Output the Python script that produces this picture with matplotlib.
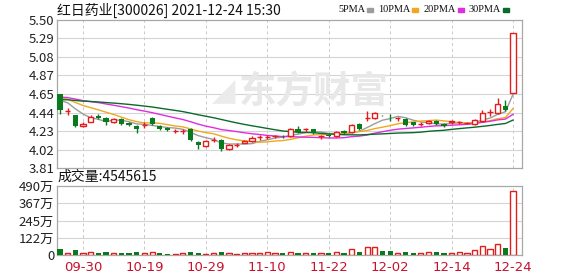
import numpy as np
import matplotlib
matplotlib.use("Agg")
import matplotlib.pyplot as plt

plt.rcParams['font.family'] = ['Noto Sans CJK SC', 'DejaVu Sans']

# daily candles, 2021-09-27 .. 2021-12-24
opens = [4.65, 4.46, 4.41, 4.29, 4.34, 4.40, 4.38, 4.34, 4.37, 4.32,
         4.29, 4.30, 4.38, 4.29, 4.27, 4.23, 4.23, 4.26, 4.11, 4.06,
         4.13, 4.13, 4.03, 4.07, 4.10, 4.12, 4.16, 4.16, 4.17, 4.175,
         4.18, 4.25, 4.25, 4.25, 4.17, 4.19, 4.17, 4.23, 4.22, 4.31,
         4.38, 4.38, 4.415, 4.395, 4.38, 4.37, 4.33, 4.31, 4.32, 4.35,
         4.31, 4.34, 4.33, 4.32, 4.31, 4.35, 4.45, 4.44, 4.52, 4.67]
closes = [4.47, 4.46, 4.29, 4.31, 4.39, 4.38, 4.33, 4.37, 4.31, 4.30,
          4.26, 4.30, 4.31, 4.25, 4.24, 4.23, 4.23, 4.13, 4.07, 4.12,
          4.13, 4.03, 4.07, 4.07, 4.12, 4.15, 4.16, 4.16, 4.17, 4.17,
          4.26, 4.22, 4.25, 4.21, 4.17, 4.17, 4.22, 4.21, 4.30, 4.25,
          4.38, 4.44, 4.41, 4.39, 4.38, 4.30, 4.30, 4.31, 4.35, 4.31,
          4.29, 4.34, 4.33, 4.32, 4.36, 4.44, 4.45, 4.54, 4.47, 5.35]
highs = [4.66, 4.50, 4.42, 4.34, 4.42, 4.43, 4.39, 4.38, 4.38, 4.33,
         4.30, 4.33, 4.39, 4.30, 4.28, 4.26, 4.26, 4.27, 4.12, 4.13,
         4.16, 4.14, 4.08, 4.09, 4.13, 4.18, 4.19, 4.19, 4.19, 4.19,
         4.27, 4.29, 4.27, 4.26, 4.19, 4.20, 4.23, 4.24, 4.31, 4.32,
         4.46, 4.45, 4.42, 4.43, 4.39, 4.38, 4.34, 4.33, 4.36, 4.36,
         4.32, 4.36, 4.35, 4.33, 4.37, 4.47, 4.48, 4.61, 4.59, 5.35]
lows = [4.43, 4.41, 4.28, 4.28, 4.33, 4.37, 4.30, 4.32, 4.30, 4.29,
        4.21, 4.27, 4.30, 4.24, 4.23, 4.21, 4.20, 4.12, 4.03, 4.05,
        4.11, 4.00, 4.02, 4.05, 4.09, 4.11, 4.13, 4.14, 4.15, 4.15,
        4.16, 4.21, 4.22, 4.20, 4.14, 4.16, 4.16, 4.20, 4.21, 4.24,
        4.35, 4.37, 4.40, 4.35, 4.35, 4.29, 4.29, 4.29, 4.31, 4.30,
        4.28, 4.31, 4.31, 4.31, 4.30, 4.34, 4.40, 4.43, 4.46, 4.67]
# volume in 万 shares
volume = [43, 12, 35, 17, 19, 12, 21, 12, 12, 12,
          21, 12, 21, 12, 7, 7, 12, 21, 12, 7,
          12, 21, 12, 7, 12, 12, 12, 21, 12, 12,
          24, 17, 12, 17, 12, 12, 19, 12, 40, 21,
          54, 54, 28, 28, 17, 19, 12, 12, 19, 19,
          12, 12, 19, 12, 35, 64, 40, 78, 50, 454.5615]
# closes before the window, only used to start the moving averages
prior_closes = [4.50, 4.52, 4.55, 4.51, 4.54, 4.53, 4.56, 4.52, 4.54, 4.53,
                4.60, 4.62, 4.65, 4.63, 4.61, 4.64, 4.66, 4.63, 4.62, 4.64,
                4.62, 4.66, 4.65, 4.64, 4.63, 4.60, 4.63, 4.61, 4.60]

tick_idx = [3, 11, 19, 27, 35, 43, 51, 59]
tick_labels = ['09-30', '10-19', '10-29', '11-10', '11-22', '12-02', '12-14', '12-24']
price_ticks = [3.81, 4.02, 4.23, 4.44, 4.65, 4.87, 5.08, 5.29, 5.50]
vol_ticks = [0, 122.5, 245, 367.5, 490]
vol_tick_labels = ['0', '122万', '245万', '367万', '490万']

ma_periods = [5, 10, 20, 30]
ma_colors = ['#9c9c9c', '#f0a820', '#e22ce0', '#0b6a2c']
RED = '#e41c1c'
GREEN = '#0a7a1e'

n = len(closes)
x = np.arange(n)
o = np.array(opens)
c = np.array(closes)
up = c >= o
vol_up = up.copy()
vol_up[12] = True

fig = plt.figure(figsize=(5.78, 2.76), dpi=100)
ax = fig.add_axes([57 / 578, 1 - 168 / 276, 465 / 578, 148 / 276])
axv = fig.add_axes([57 / 578, 1 - 255 / 276, 465 / 578, 69 / 276])

xlim = (-0.39, 60.17)

for a in (ax, axv):
    a.set_xlim(*xlim)
    for s in a.spines.values():
        s.set_color('#a8a8a8')
        s.set_linewidth(0.9)
    for i in tick_idx:
        a.axvline(i, color='#c8c8c8', lw=0.7, ls=(0, (3, 3)), zorder=0)
    a.tick_params(length=0, labelsize=9.5, colors='#222222', pad=2)

# price panel
ax.set_ylim(3.81, 5.50)
ax.set_yticks(price_ticks)
ax.set_yticklabels([f'{t:.2f}' for t in price_ticks])
ax.set_xticks([])
for t in price_ticks[1:-1]:
    ax.axhline(t, color='#d4d4d4', lw=0.8, zorder=0)

# watermark
ax.text(33, 4.68, '东方财富', fontsize=27, fontweight='bold', color='#e8e8e8',
        ha='center', va='center', zorder=0.5)
ax.text(21.3, 4.68, '◢', fontsize=22, color='#ebebeb',
        ha='center', va='center', zorder=0.5, family=['DejaVu Sans'])

all_c = np.array(prior_closes + closes)
for p, col in zip(ma_periods, ma_colors):
    ma = np.convolve(all_c, np.ones(p) / p, mode='valid')[-n:]
    ax.plot(x, ma, color=col, lw=1.0, zorder=2)

w = 0.68
for i in range(n):
    col = RED if up[i] else GREEN
    ax.vlines(x[i], lows[i], highs[i], color=col, lw=1.0, zorder=3)
    bottom = min(o[i], c[i])
    h = max(abs(c[i] - o[i]), 0.004)
    if up[i]:
        ax.bar(x[i], h, w, bottom=bottom, facecolor='white', edgecolor=col,
               lw=1.0, zorder=4)
    else:
        ax.bar(x[i], h, w, bottom=bottom, color=col, lw=0, zorder=4)

# volume panel
axv.set_ylim(0, 490)
axv.set_yticks(vol_ticks)
axv.set_yticklabels(vol_tick_labels)
for t in vol_ticks[1:-1]:
    axv.axhline(t, color='#d4d4d4', lw=0.8, zorder=0)
axv.set_xticks(tick_idx)
axv.set_xticklabels(tick_labels, color='#c8102e', fontsize=9.5,
                    family=['DejaVu Sans'])
axv.tick_params(axis='x', pad=4)
for i in range(n):
    if vol_up[i]:
        axv.bar(x[i], volume[i], w, facecolor='white', edgecolor=RED, lw=1.0,
                zorder=3)
    else:
        axv.bar(x[i], volume[i], w, color=GREEN, lw=0, zorder=3)

# header texts
fig.text(57 / 578, 1 - 10 / 276, '红日药业[300026] 2021-12-24 15:30',
         fontsize=10, color='#111111', va='center', ha='left')
fig.text(57 / 578, 1 - 177 / 276, '成交量:4545615',
         fontsize=10, color='#111111', va='center', ha='left')

# MA legend, laid out left to right from measured text widths
fig.canvas.draw()
renderer = fig.canvas.get_renderer()
lx = 338
for p, col in zip(ma_periods, ma_colors):
    t = fig.text(lx / 578, 1 - 10 / 276, f'{p}PMA', fontsize=7.4,
                 color='#111111', va='center', ha='left',
                 family=['Liberation Serif'])
    tw = t.get_window_extent(renderer).width
    sx = lx + tw + 2
    fig.patches.append(plt.Rectangle((sx / 578, 1 - 11.5 / 276),
                                     6 / 578, 3 / 276, color=col,
                                     transform=fig.transFigure, figure=fig))
    lx = sx + 6 + 5

fig.savefig('out.png', dpi=100)
